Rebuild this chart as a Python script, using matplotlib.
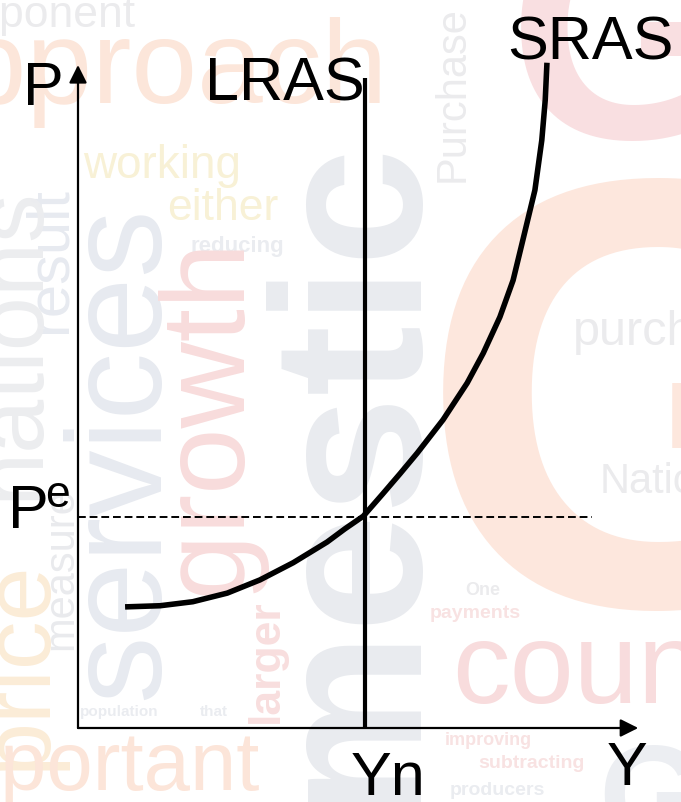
import matplotlib
matplotlib.use("Agg")
import matplotlib.pyplot as plt

plt.rcParams["font.family"] = ["Liberation Sans", "DejaVu Sans"]

# ---- diagram data (output Y on x, price level P on y) ----
SRAS_Y = [0.82, 1.43, 2.00, 2.60, 3.17, 3.75, 4.34, 4.65, 4.97, 5.31, 5.61,
          5.91, 6.36, 6.78, 7.06, 7.35, 7.58, 7.75, 7.96, 8.08, 8.14, 8.17]
SRAS_P = [2.11, 2.13, 2.20, 2.35, 2.58, 2.88, 3.24, 3.47, 3.69, 4.08, 4.43,
          4.79, 5.37, 6.01, 6.53, 7.16, 7.80, 8.50, 9.37, 10.24, 10.94, 11.59]

Y_N = 5.0          # natural output -> LRAS
P_E = 3.68         # expected price level
LRAS_TOP = 11.32
Y_AXIS_END = 9.76
P_AXIS_END = 11.55
PE_LINE_END = 8.95

# ---- faded word-cloud backdrop: baseline start (px), size pt, rotation ----
BG_WORDS = ["approach", "component", "working", "either", "reducing",
            "services", "growth", "domestic", "result", "nations", "price",
            "important", "country", "Purchase", "purchase", "National",
            "measure", "larger", "G", "G", "G", "population", "that", "One",
            "payments", "improving", "subtracting", "producers"]
BG_X = [-105, -85, 83, 167, 191, 158, 240, 413, 66, 38, 45, -88, 452, 464,
        573, 600, 72, 278, 418, 508, 598, 80, 200, 465, 430, 445, 478, 450]
BG_Y = [103, 27, 178, 220, 252, 700, 595, 1071, 333, 500, 770, 790, 703,
        182, 345, 493, 650, 723, 605, 138, 843, 716, 716, 595, 618, 745,
        768, 795]
BG_SIZE = [85, 32, 33, 32, 16, 97, 86, 153, 43, 70, 70, 60, 83, 30, 35,
           30, 30, 32, 440, 230, 100, 11, 11, 13, 14, 13, 14, 14]
BG_ROT = [0, 0, 0, 0, 0, 90, 90, 90, 90, 90, 90, 0, 0, 90, 0, 0, 90, 90,
          0, 0, 0, 0, 0, 0, 0, 0, 0, 0]
BG_BOLD = [0, 0, 0, 0, 1, 0, 0, 1, 0, 0, 0, 0, 0, 0, 0, 0, 0, 1,
           1, 1, 1, 1, 1, 1, 1, 1, 1, 1]
BG_COLOR = ["#fce6da", "#ebebed", "#f8f1d6", "#f8f1d6", "#eaecf0",
            "#e7eaf0", "#f8dcdc", "#e9ebef", "#e7eaf0", "#ecedef", "#fbecd7",
            "#fce5d9", "#f8dcdd", "#ebebed", "#ebebed", "#ebebed", "#e9eaed",
            "#f8dede", "#fde7dd", "#f9dfe1", "#eceef2", "#eaecf0", "#eaecf0",
            "#ebebed", "#f8e2e2", "#f8e2e2", "#f8e2e2", "#eaecf0"]

W, H = 681, 802
X0, Y0, PX = 78, 728, 57.4    # axis origin in pixels, pixels per unit

fig = plt.figure(figsize=(W / 100, H / 100), dpi=100)
ax = fig.add_axes([0, 0, 1, 1])
ax.set_xlim(-X0 / PX, (W - X0) / PX)
ax.set_ylim(-(H - Y0) / PX, Y0 / PX)
ax.axis("off")

# background word cloud
for word, x, y, s, r, b, c in zip(BG_WORDS, BG_X, BG_Y, BG_SIZE, BG_ROT,
                                  BG_BOLD, BG_COLOR):
    ax.text(x / W, 1 - y / H, word, transform=ax.transAxes, fontsize=s,
            rotation=r, rotation_mode="anchor", ha="left", va="baseline",
            color=c, fontweight="bold" if b else "normal", zorder=0,
            clip_on=True)

# axes with arrow heads
arrow = dict(arrowstyle="-|>", color="black", lw=1.6, mutation_scale=27,
             shrinkA=0, shrinkB=0)
ax.annotate("", xy=(0, P_AXIS_END), xytext=(0, 0), arrowprops=arrow, zorder=3)
ax.annotate("", xy=(Y_AXIS_END, 0), xytext=(0, 0), arrowprops=arrow, zorder=3)

# expected price level
ax.plot([0, PE_LINE_END], [P_E, P_E], color="black", lw=1.4,
        dashes=(4, 2), zorder=2)

# LRAS and SRAS
ax.plot([Y_N, Y_N], [0, LRAS_TOP], color="black", lw=3.0, zorder=4,
        solid_capstyle="butt")
ax.plot(SRAS_Y, SRAS_P, color="black", lw=4.0, zorder=4,
        solid_joinstyle="round", solid_capstyle="butt")

# labels
big = dict(fontsize=44, color="black", ha="center", va="baseline", zorder=5)
ax.text(-0.61, 10.85, "P", **big)
ax.text(3.60, 10.94, "LRAS", **big)
ax.text(8.93, 11.64, "SRAS", **big)
ax.text(5.40, -1.17, "Yn", **big)
ax.text(9.57, -0.99, "Y", **big)
ax.text(-0.87, 3.48, "P", **big)
ax.text(-0.35, 3.85, "e", fontsize=32, color="black", ha="center",
        va="baseline", zorder=5)

fig.savefig("out.png", dpi=100)
